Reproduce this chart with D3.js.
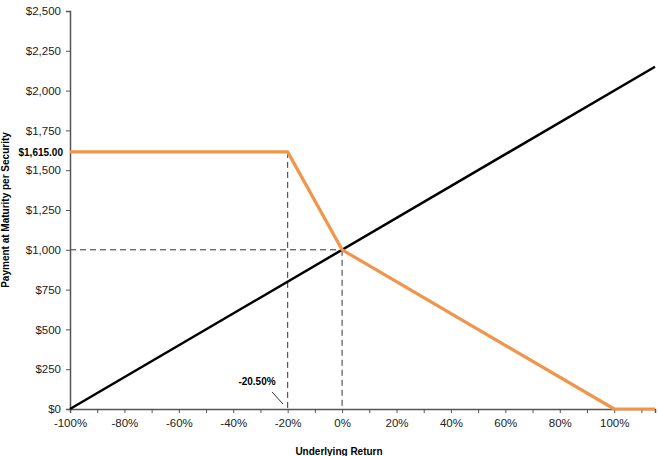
<!DOCTYPE html>
<html>
<head>
<meta charset="utf-8">
<script src="https://cdn.jsdelivr.net/npm/d3@7"></script>
<style>
  body { margin: 0; background: #fff; }
  svg text { font-family: "Liberation Sans", Arial, sans-serif; }
</style>
</head>
<body>
<div id="main"></div>
<script>
// underlying return (%) and payment at maturity ($)
var returns = [-100, 115];
var underlyingPay = [0, 2150];
var noteReturns = [-100, -20, 0, 100, 115];
var notePay = [1615, 1615, 1000, 0, 0];
var yTicks = [0, 250, 500, 750, 1000, 1250, 1500, 1750, 2000, 2250, 2500];
var xTicks = [-100, -80, -60, -40, -20, 0, 20, 40, 60, 80, 100];
var xMinor = [-90, -70, -50, -30, -10, 10, 30, 50, 70, 90, 110];
var capValue = 1615;
var kinkReturn = -20;

var width = 658, height = 456;
var svg = d3.select('#main').append('svg').attr('width', width).attr('height', height);

var x = d3.scaleLinear().domain([-100, 115]).range([70, 655]);
var y = d3.scaleLinear().domain([0, 2500]).range([409, 11]);

// dashed guides
var dash = svg.append('g').attr('stroke', '#333').attr('stroke-width', 1).attr('stroke-dasharray', '6,4');
dash.append('line').attr('x1', x(kinkReturn)).attr('x2', x(kinkReturn)).attr('y1', y(capValue)).attr('y2', y(0));
dash.append('line').attr('x1', x(-100)).attr('x2', x(0)).attr('y1', y(1000)).attr('y2', y(1000));
dash.append('line').attr('x1', x(0)).attr('x2', x(0)).attr('y1', y(1000)).attr('y2', y(0));

// axes
var yAxis = svg.append('g').attr('transform', 'translate(' + x(-100) + ',0)')
    .call(d3.axisLeft(y).tickValues(yTicks).tickSize(4).tickPadding(5)
        .tickFormat(d => '$' + d3.format(',')(d)));
var xAxis = svg.append('g').attr('transform', 'translate(0,' + y(0) + ')')
    .call(d3.axisBottom(x).tickValues(xTicks).tickSize(4).tickPadding(4)
        .tickFormat(d => d + '%'));
svg.append('g').attr('transform', 'translate(0,' + y(0) + ')')
    .call(d3.axisBottom(x).tickValues(xMinor).tickSize(4).tickFormat(''))
    .select('.domain').remove();

svg.selectAll('.domain').attr('stroke', '#555').attr('stroke-width', 1.5);
svg.selectAll('.tick line').attr('stroke', '#555');
svg.selectAll('.tick text').attr('font-size', 11.5).attr('fill', '#222');
xAxis.selectAll('.tick text').attr('dy', '0.9em');

var line = d3.line().x(d => x(d[0])).y(d => y(d[1]));

// underlying line
svg.append('path')
    .datum(returns.map((r, i) => [r, underlyingPay[i]]))
    .attr('d', line).attr('fill', 'none').attr('stroke', '#000').attr('stroke-width', 2.5);

// note payoff
svg.append('path')
    .datum(noteReturns.map((r, i) => [r, notePay[i]]))
    .attr('d', line).attr('fill', 'none').attr('stroke', '#F0954A').attr('stroke-width', 3.2)
    .attr('stroke-linejoin', 'round');

// annotations
svg.append('text').attr('x', x(-100) - 7).attr('y', y(capValue) + 4)
    .attr('text-anchor', 'end').attr('font-size', 10).attr('font-weight', 'bold')
    .text('$1,615.00');
svg.append('text').attr('x', 257).attr('y', 385)
    .attr('text-anchor', 'middle').attr('font-size', 10).attr('font-weight', 'bold')
    .text('-20.50%');
svg.append('line').attr('x1', 272).attr('y1', 392).attr('x2', 283).attr('y2', 404)
    .attr('stroke', '#333').attr('stroke-width', 1);

// axis titles
svg.append('text').attr('x', 339).attr('y', 455)
    .attr('text-anchor', 'middle').attr('font-size', 10).attr('font-weight', 'bold')
    .text('Underlying Return');
svg.append('text').attr('transform', 'translate(9,210) rotate(-90)')
    .attr('text-anchor', 'middle').attr('font-size', 10).attr('font-weight', 'bold')
    .text('Payment at Maturity per Security');
</script>
</body>
</html>
